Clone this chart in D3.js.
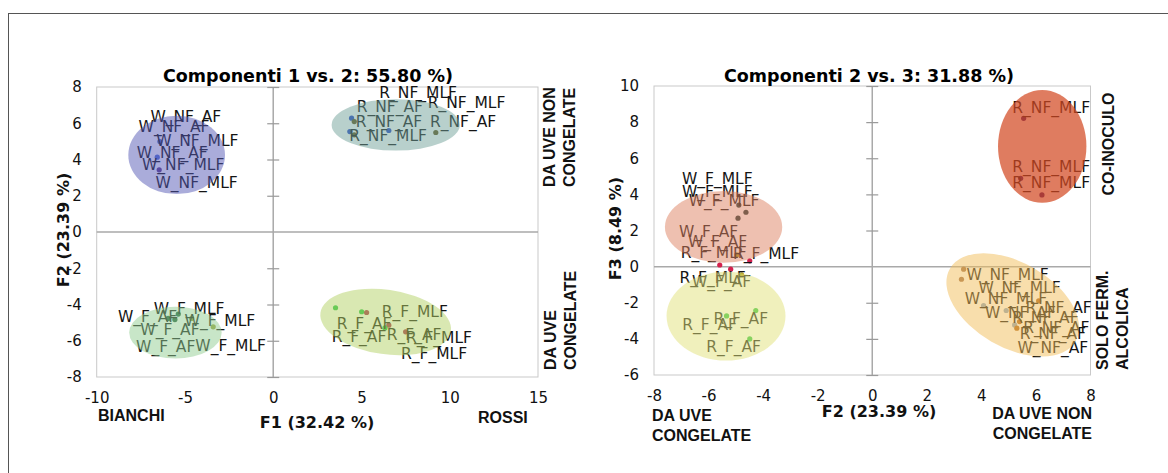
<!DOCTYPE html>
<html>
<head>
<meta charset="utf-8">
<script src="https://cdn.jsdelivr.net/npm/d3@7"></script>
<style>
  html, body { margin: 0; padding: 0; background: #fff; }
  svg { display: block; }
  .tick-label text { font-family: "DejaVu Sans", Verdana, sans-serif; font-size: 15px; fill: #111; }
  .pt-label { font-family: "DejaVu Sans", Verdana, sans-serif; font-size: 15.5px; fill: #151515; }
  .title { font-family: "DejaVu Sans", Verdana, sans-serif; font-weight: bold; font-size: 17.5px; fill: #000; }
  .axis-title { font-family: "DejaVu Sans", Verdana, sans-serif; font-weight: bold; font-size: 16px; fill: #111; }
  .side { font-family: "Liberation Sans", Arial, sans-serif; font-weight: bold; font-size: 16px; fill: #111; }
</style>
</head>
<body>
<div id="chart"></div>
<script>
(() => {
// ---- data ----
const leftTitle = "Componenti 1 vs. 2: 55.80 %)";
const leftXTitle = "F1 (32.42 %)";
const leftYTitle = "F2 (23.39 %)";
const leftXTicks = [-10, -5, 0, 5, 10, 15];
const leftYTicks = [-8, -6, -4, -2, 0, 2, 4, 6, 8];

// [x, y, kind]
const leftPoints = [
  [-6.42, 4.99, "W_NF_AF"], [-6.57, 4.13, "W_NF_AF"], [-6.46, 3.43, "W_NF_MLF"],
  [4.44, 6.28, "R_NF_MLF"], [4.59, 6.09, "R_NF_AF"], [4.34, 5.54, "R_NF_MLF"],
  [4.59, 5.36, "R_NF_AF"], [6.55, 5.60, "R_NF_MLF"], [9.21, 5.49, "R_NF_AF"],
  [-5.95, -4.77, "W_F_AF"], [-5.57, -4.83, "W_F_AF"], [-5.38, -4.53, "W_F_AF"],
  [-4.62, -4.77, "W_F_MLF"], [-3.40, -5.23, "W_F_MLF"],
  [3.53, -4.18, "R_F_AF"], [5.01, -4.40, "R_F_AF"], [5.29, -4.44, "R_F_MLF"],
  [6.55, -5.14, "R_F_MLF"], [6.33, -5.29, "R_F_AF"], [7.50, -5.51, "R_F_MLF"]
];

// [text, x, y]  (label centre)
const leftLabels = [
  ["W_NF_AF", -4.95, 6.37], ["W_NF_AF", -5.62, 5.82], ["W_NF_MLF", -4.30, 5.04],
  ["W_NF_AF", -5.72, 4.35], ["W_NF_MLF", -5.10, 3.70], ["W_NF_MLF", -4.34, 2.72],
  ["R_NF_MLF", 8.21, 7.66], ["R_NF_AF", 6.61, 6.87], ["R_NF_MLF", 10.95, 7.11],
  ["R_NF_AF", 6.56, 6.09], ["R_NF_AF", 10.76, 6.09], ["R_NF_MLF", 6.51, 5.27],
  ["W_F_MLF", -4.76, -4.27], ["W_F_AF", -7.12, -4.71], ["W_F_MLF", -3.02, -4.90],
  ["W_F_AF", -5.85, -5.38], ["W_F_AF", -6.09, -6.37], ["W_F_MLF", -2.41, -6.30],
  ["R_F_MLF", 8.02, -4.40], ["R_F_AF", 5.15, -5.05], ["R_F_AF", 4.86, -5.82],
  ["R_F_AF", 7.98, -5.69], ["R_F_MLF", 9.39, -5.87], ["R_F_MLF", 9.11, -6.74]
];

// [cx, cy, rx, ry, tilt (deg), group]
const leftEllipses = [
  [-5.47, 4.25, 2.74, 2.16, 0, "W_NF"],
  [6.94, 5.91, 3.63, 1.42, 0, "R_NF"],
  [-5.54, -5.55, 2.62, 1.43, 0, "W_F"],
  [6.37, -4.96, 3.73, 1.78, 8, "R_F"]
];

const rightTitle = "Componenti 2 vs. 3: 31.88 %)";
const rightXTitle = "F2 (23.39 %)";
const rightYTitle = "F3 (8.49 %)";
const rightXTicks = [-8, -6, -4, -2, 0, 2, 4, 6, 8];
const rightYTicks = [-6, -4, -2, 0, 2, 4, 6, 8, 10];

const rightPoints = [
  [-4.89, 3.41, "W_F_MLF"], [-4.63, 3.01, "W_F_MLF"], [-4.92, 2.68, "W_F_MLF"],
  [-5.59, 0.09, "R_F_MLF"], [-5.19, -0.14, "R_F_MLF"], [-4.49, 0.32, "R_F_MLF"],
  [-4.97, 0.65, "W_F_AF"], [-4.79, -0.46, "W_F_AF"],
  [-5.34, -2.73, "R_F_AF"], [-4.27, -2.43, "R_F_AF"], [-4.49, -4.00, "R_F_AF"],
  [5.55, 8.21, "R_NF_MLF"], [5.44, 4.89, "R_NF_MLF"], [6.22, 3.97, "R_NF_MLF"],
  [3.35, -0.14, "W_NF_MLF"], [3.27, -0.70, "W_NF_MLF"],
  [4.08, -2.16, "W_NF_AF"], [4.91, -2.43, "W_NF_AF"], [5.22, -3.23, "W_NF_AF"],
  [6.10, -1.90, "R_NF_AF"], [5.40, -3.04, "R_NF_AF"], [5.30, -3.41, "R_NF_AF"]
];

const rightLabels = [
  ["W_F_MLF", -5.68, 4.85], ["W_F_MLF", -5.68, 4.15], ["W_F_MLF", -5.43, 3.65],
  ["W_F_AF", -6.00, 1.94], ["W_F_AF", -5.67, 1.38],
  ["R_F_MLF", -5.81, 0.74], ["R_F_MLF", -3.89, 0.70],
  ["R_F_MLF", -5.85, -0.64], ["W_F_AF", -5.52, -0.83],
  ["R_F_AF", -5.96, -3.23], ["R_F_AF", -4.82, -2.91], ["R_F_AF", -5.08, -4.43],
  ["R_NF_MLF", 6.56, 8.80], ["R_NF_MLF", 6.56, 5.50], ["R_NF_MLF", 6.56, 4.61],
  ["W_NF_MLF", 4.96, -0.46], ["W_NF_MLF", 5.40, -1.16], ["W_NF_MLF", 4.90, -1.80],
  ["R_NF_AF", 6.83, -2.30], ["W_NF_AF", 5.43, -2.58], ["R_NF_AF", 6.35, -2.86],
  ["R_NF_AF", 6.75, -3.41], ["R_NF_AF", 6.62, -3.72], ["W_NF_AF", 6.62, -4.52]
];

const rightEllipses = [
  [-5.45, 2.20, 2.15, 1.99, 0, "W_F"],
  [-5.36, -2.74, 2.18, 2.46, 0, "R_F"],
  [6.23, 6.66, 1.62, 3.12, 0, "CO"],
  [5.15, -2.12, 2.66, 2.35, 30, "NF"]
];

// ---- styles ----
const leftPointColor = {
  W_NF_AF: "#4f6fd6", W_NF_MLF: "#5d3a8c", R_NF_MLF: "#2546c2", R_NF_AF: "#5e5116",
  W_F_AF: "#1d5a36", W_F_MLF: "#98a03a", R_F_AF: "#1fc247", R_F_MLF: "#a3284c"
};
const rightPointColor = {
  W_F_MLF: "#1e3a36", R_F_MLF: "#d3214d", W_F_AF: "#b09a1e", R_F_AF: "#2cc244",
  R_NF_MLF: "#3c1870", W_NF_MLF: "#a0704e", W_NF_AF: "#8aa6c6", R_NF_AF: "#b0661c"
};
const ellipseStyle = {
  W_NF: ["#5559b5", 0.5], R_NF: ["#71a199", 0.5], W_F: ["#91cd91", 0.5], R_F: ["#b3d165", 0.5],
  CO: ["#d34a22", 0.72], NF: ["#f1bd59", 0.5]
};
const rightEllipseStyle = Object.assign({}, ellipseStyle, {
  W_F: ["#dd8161", 0.5], R_F: ["#e1e179", 0.5]
});

const width = 1168, height = 473;
const svg = d3.select("#chart").append("svg").attr("width", width).attr("height", height);

// outer frame (only top/left edges fall inside the picture)
svg.append("rect").attr("x", 8.5).attr("y", 13.5).attr("width", 1300).attr("height", 600)
  .attr("fill", "none").attr("stroke", "#555").attr("stroke-width", 1);

const plainNumber = (v) => String(v);

function drawPanel(p) {
  const g = svg.append("g");
  const [x0, x1] = p.x.range();
  const [y1, y0] = p.y.range();

  g.append("rect").attr("x", x0).attr("y", y0).attr("width", x1 - x0).attr("height", y1 - y0)
    .attr("fill", "#fff").attr("stroke", "#c9c9c9").attr("stroke-width", 1);

  // zero lines
  g.append("line").attr("x1", x0).attr("x2", x1).attr("y1", p.y(0)).attr("y2", p.y(0))
    .attr("stroke", "#a9a9a9").attr("stroke-width", 1.5);
  g.append("line").attr("x1", p.x(0)).attr("x2", p.x(0)).attr("y1", y0).attr("y2", y1)
    .attr("stroke", "#a9a9a9").attr("stroke-width", 1.5);

  // cross tick marks on the vertical zero line
  g.append("g").attr("transform", `translate(${p.x(0) + 6},0)`)
    .call(d3.axisLeft(p.y).tickValues(p.yTicks.filter((v) => v !== 0)).tickSize(12).tickFormat(""))
    .call((a) => a.select(".domain").remove())
    .call((a) => a.selectAll("line").attr("stroke", "#9a9a9a").attr("stroke-width", 1.2));

  // tick labels at plot edges
  g.append("g").attr("class", "tick-label").attr("transform", `translate(${x0},0)`)
    .call(d3.axisLeft(p.y).tickValues(p.yTicks).tickSize(0).tickPadding(15).tickFormat(plainNumber))
    .call((a) => a.attr("font-size", null).attr("font-family", null))
    .call((a) => a.select(".domain").remove());
  g.append("g").attr("class", "tick-label").attr("transform", `translate(0,${y1})`)
    .call(d3.axisBottom(p.x).tickValues(p.xTicks).tickSize(0).tickPadding(15).tickFormat(plainNumber))
    .call((a) => a.attr("font-size", null).attr("font-family", null))
    .call((a) => a.select(".domain").remove());

  // points
  g.append("g").selectAll("circle").data(p.points).join("circle")
    .attr("cx", (d) => p.x(d[0])).attr("cy", (d) => p.y(d[1])).attr("r", 2.6)
    .attr("fill", (d) => p.pointColor[d[2]]);

  // labels
  g.append("g").selectAll("text").data(p.labels).join("text")
    .attr("class", "pt-label")
    .attr("x", (d) => p.x(d[1])).attr("y", (d) => p.y(d[2]))
    .attr("text-anchor", "middle").attr("dominant-baseline", "central")
    .text((d) => d[0]);

  // confidence ellipses on top, translucent
  g.append("g").selectAll("ellipse").data(p.ellipses).join("ellipse")
    .attr("transform", (d) => `translate(${p.x(d[0])},${p.y(d[1])}) rotate(${d[4]})`)
    .attr("rx", (d) => Math.abs(p.x(d[0] + d[2]) - p.x(d[0])))
    .attr("ry", (d) => Math.abs(p.y(d[1] + d[3]) - p.y(d[1])))
    .attr("fill", (d) => p.ellipseStyle[d[5]][0])
    .attr("fill-opacity", (d) => p.ellipseStyle[d[5]][1]);

  // titles
  g.append("text").attr("class", "title").attr("x", p.titleX).attr("y", 81.5)
    .attr("text-anchor", "middle").text(p.title);
  g.append("text").attr("class", "axis-title")
    .attr("transform", `translate(${p.yTitleX},${(y0 + y1) / 2 - 2}) rotate(-90)`)
    .attr("text-anchor", "middle").attr("dominant-baseline", "central").text(p.yTitle);
  g.append("text").attr("class", "axis-title").attr("x", p.xTitleX).attr("y", p.xTitleY)
    .attr("text-anchor", "middle").attr("dominant-baseline", "central").text(p.xTitle);
  return g;
}

function sideText(lines, x, y, gap, anchor) {
  lines.forEach((t, i) => {
    svg.append("text").attr("class", "side")
      .attr("transform", `translate(${x + i * gap},${y}) rotate(-90)`)
      .attr("text-anchor", anchor).attr("dominant-baseline", "central").text(t);
  });
}
function flatText(lines, x, y, gap, anchor) {
  lines.forEach((t, i) => {
    svg.append("text").attr("class", "side").attr("x", x).attr("y", y + i * gap)
      .attr("text-anchor", anchor).attr("dominant-baseline", "central").text(t);
  });
}

drawPanel({
  x: d3.scaleLinear().domain([-10, 15]).range([96.7, 538]),
  y: d3.scaleLinear().domain([-8, 8]).range([377, 87]),
  xTicks: leftXTicks, yTicks: leftYTicks,
  points: leftPoints, labels: leftLabels, ellipses: leftEllipses,
  pointColor: leftPointColor, ellipseStyle: ellipseStyle,
  title: leftTitle, titleX: 308, yTitle: leftYTitle, yTitleX: 63,
  xTitle: leftXTitle, xTitleX: 317, xTitleY: 422
});
drawPanel({
  x: d3.scaleLinear().domain([-8, 8]).range([654, 1090.5]),
  y: d3.scaleLinear().domain([-6, 10]).range([375, 86]),
  xTicks: rightXTicks, yTicks: rightYTicks,
  points: rightPoints, labels: rightLabels, ellipses: rightEllipses,
  pointColor: rightPointColor, ellipseStyle: rightEllipseStyle,
  title: rightTitle, titleX: 869, yTitle: rightYTitle, yTitleX: 615,
  xTitle: rightXTitle, xTitleX: 879, xTitleY: 411
});

// side annotations
sideText(["DA UVE NON", "CONGELATE"], 549, 187, 20, "start");
sideText(["DA UVE", "CONGELATE"], 550, 370, 20, "start");
flatText(["BIANCHI"], 98, 415, 0, "start");
flatText(["ROSSI"], 478, 417, 0, "start");

sideText(["CO-INOCULO"], 1108, 144, 0, "middle");
sideText(["SOLO FERM.", "ALCOLICA"], 1102, 370, 20, "start");
flatText(["DA UVE", "CONGELATE"], 652, 415, 20, "start");
flatText(["DA UVE NON", "CONGELATE"], 1092, 413, 20, "end");
})();
</script>
</body>
</html>
